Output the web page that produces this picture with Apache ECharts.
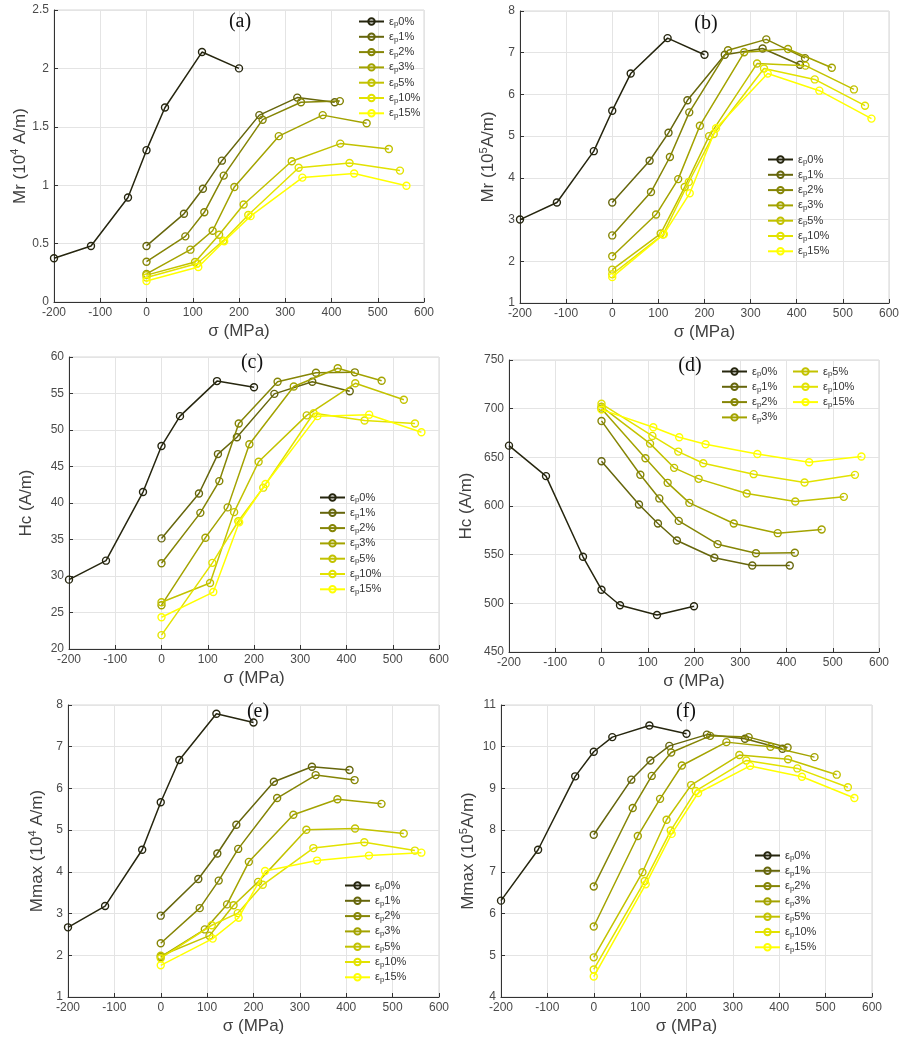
<!DOCTYPE html>
<html>
<head>
<meta charset="utf-8">
<script src="https://cdn.jsdelivr.net/npm/echarts@6/dist/echarts.min.js"></script>
<style>
html,body{margin:0;padding:0;background:#fff;}
#chart{width:902px;height:1038px;}
</style>
</head>
<body>
<div id="chart"></div>
<script>
// ---- data ----
const strains = ['0%', '1%', '2%', '3%', '5%', '10%', '15%'];
const sigmaByStrain = [
  [-200, -120, -40, 0, 40, 120, 200],
  [0, 81, 122, 163, 244, 326, 407],
  [0, 84, 125, 167, 251, 334, 418],
  [0, 95, 143, 190, 286, 381, 476],
  [0, 105, 157, 210, 314, 419, 524],
  [0, 110, 166, 220, 329, 439, 548],
  [0, 112, 168, 225, 337, 449, 562]
];
const mrA = [
  [0.375, 0.48, 0.895, 1.30, 1.665, 2.14, 2.0],
  [0.48, 0.755, 0.97, 1.21, 1.60, 1.75, 1.71],
  [0.345, 0.562, 0.768, 1.082, 1.561, 1.71, 1.72],
  [0.24, 0.448, 0.61, 0.985, 1.42, 1.60, 1.53],
  [0.23, 0.342, 0.576, 0.835, 1.205, 1.356, 1.31],
  [0.21, 0.33, 0.525, 0.745, 1.15, 1.19, 1.125],
  [0.18, 0.30, 0.52, 0.735, 1.065, 1.10, 0.995]
];
const mrB = [
  [3.0, 3.41, 4.64, 5.61, 6.50, 7.35, 6.95],
  [3.41, 4.41, 5.08, 5.86, 6.95, 7.10, 6.71],
  [2.62, 3.66, 4.50, 5.57, 7.06, 7.32, 6.87],
  [2.12, 3.12, 3.97, 5.25, 7.01, 7.09, 6.64],
  [1.80, 2.665, 3.78, 5.0, 6.74, 6.69, 6.12],
  [1.69, 2.64, 3.90, 5.05, 6.62, 6.36, 5.73],
  [1.62, 2.65, 3.63, 5.19, 6.50, 6.09, 5.42]
];
const hcC = [
  [29.5, 32.1, 41.5, 47.8, 51.9, 56.7, 55.85],
  [35.15, 41.3, 46.7, 49.0, 54.95, 56.6, 55.3],
  [31.75, 38.65, 43.0, 50.9, 56.6, 57.85, 57.9],
  [26.0, 35.25, 39.4, 48.05, 55.95, 58.45, 56.75],
  [26.4, 29.05, 38.75, 45.65, 52.0, 56.4, 54.15],
  [21.9, 31.8, 37.5, 42.1, 52.3, 51.3, 50.9],
  [24.35, 27.8, 37.35, 42.6, 51.9, 52.1, 49.7]
];
const hcD = [
  [662, 630.7, 547.8, 514, 498, 488, 497],
  [646, 601.5, 582, 564.6, 546.8, 538.9, 538.9],
  [687.4, 632.1, 607.8, 584.7, 560.8, 551.5, 552],
  [700, 649.1, 623.8, 603.2, 582, 572.1, 575.9],
  [702, 664.1, 639.2, 627.9, 612.8, 604.6, 609.4],
  [705, 672, 655.9, 643.9, 632.7, 624.1, 632],
  [699, 680.9, 670.6, 663.4, 653.5, 645, 650.8]
];
const mmaxE = [
  [2.67, 3.18, 4.53, 5.67, 6.68, 7.79, 7.58],
  [2.95, 3.83, 4.44, 5.13, 6.16, 6.52, 6.44],
  [2.29, 3.13, 3.79, 4.55, 5.77, 6.32, 6.20],
  [1.96, 2.62, 3.22, 4.24, 5.37, 5.74, 5.63],
  [1.99, 2.47, 3.20, 3.76, 5.01, 5.04, 4.92],
  [1.93, 2.72, 3.01, 3.69, 4.57, 4.71, 4.51],
  [1.76, 2.40, 2.90, 4.02, 4.27, 4.39, 4.46]
];
const mmaxF = [
  [6.31, 7.53, 9.29, 9.88, 10.23, 10.51, 10.31],
  [7.89, 9.21, 9.67, 10.02, 10.29, 10.19, 9.95],
  [6.65, 8.53, 9.30, 9.86, 10.26, 10.23, 9.98],
  [5.69, 7.86, 8.75, 9.55, 10.11, 10.0, 9.75],
  [4.95, 6.99, 8.25, 9.08, 9.80, 9.70, 9.33],
  [4.66, 6.78, 7.99, 8.94, 9.67, 9.48, 9.03],
  [4.49, 6.70, 7.91, 8.89, 9.54, 9.28, 8.77]
];
const panelLetters = ['(a)', '(b)', '(c)', '(d)', '(e)', '(f)'];
const yNames = [
  '{a|Mr (10}{s|4}{a| A/m)}',
  '{a|Mr (10}{s|5}{a|A/m)}',
  '{a|Hc (A/m)}',
  '{a|Hc (A/m)}',
  '{a|Mmax (10}{s|4}{a| A/m)}',
  '{a|Mmax (10}{s|5}{a|A/m)}'
];
const yRanges = [[0, 2.5, 0.5], [1, 8, 1], [20, 60, 5], [450, 750, 50], [1, 8, 1], [4, 11, 1]];
const xRange = [-200, 600, 100];
const panelValues = [mrA, mrB, hcC, hcD, mmaxE, mmaxF];

// ---- styles / layout ----
const colors = ['#26260f', '#66660c', '#858505', '#a3a300', '#c2c200', '#e2e200', '#ffff00'];
const grids = [
  {left: 54, top: 10, width: 370, height: 292},
  {left: 520, top: 11, width: 371, height: 292},
  {left: 69, top: 357, width: 370, height: 292},
  {left: 509, top: 360, width: 370, height: 292},
  {left: 68, top: 705, width: 371, height: 292},
  {left: 501, top: 705, width: 371, height: 292}
];
const titlePos = [[240, 12], [706, 14], [252, 353], [690, 356], [258, 702], [686, 702]];
const yNameGap = [24, 22, 33, 33, 21, 23];
const FONT = '"Liberation Sans", Arial, Helvetica, sans-serif';
const TXT = '#404040';

const legendRich = {
  e: {fontSize: 11, color: '#333', fontFamily: FONT},
  p: {fontSize: 8, color: '#333', fontFamily: FONT, verticalAlign: 'bottom', padding: [3, 0, 0, 0]},
  t: {fontSize: 11, color: '#333', fontFamily: FONT}
};
function legendFmt(name) {
  return '{e|ε}{p|p}{t|' + name.replace('εp', '') + '}';
}
function makeLegend(left, top, names) {
  return {
    left: left, top: top, orient: 'vertical',
    itemWidth: 25, itemHeight: 8, itemGap: 2.3,
    padding: 0,
    data: names,
    formatter: legendFmt,
    textStyle: {fontFamily: FONT, fontSize: 11, color: '#333', lineHeight: 13, rich: legendRich},
    selectedMode: false
  };
}
const allNames = strains.map(s => 'εp' + s);
const legends = [
  makeLegend(358, 15, allNames),
  makeLegend(767, 153, allNames),
  makeLegend(319, 491, allNames),
  makeLegend(721, 365, allNames.slice(0, 4)),
  makeLegend(792, 365, allNames.slice(4)),
  makeLegend(344, 879, allNames),
  makeLegend(754, 849, allNames)
];

const xAxes = [], yAxes = [], series = [], titles = [];
grids.forEach((g, i) => {
  g.show = true;
  g.borderColor = '#d6d6d6';
  g.borderWidth = 1;
  g.containLabel = false;
  xAxes.push({
    type: 'value', gridIndex: i, min: xRange[0], max: xRange[1], interval: xRange[2],
    name: 'σ (MPa)', nameLocation: 'middle', nameGap: 21,
    nameTextStyle: {fontFamily: FONT, fontSize: 17, color: TXT},
    axisLine: {show: true, onZero: false, lineStyle: {color: '#333', width: 1}},
    axisTick: {show: true, inside: true, length: 4, lineStyle: {color: '#333'}},
    axisLabel: {fontFamily: FONT, fontSize: 12, color: '#4a4a4a', margin: 5},
    splitLine: {show: true, lineStyle: {color: '#e4e4e4', width: 1}}
  });
  const yr = yRanges[i];
  yAxes.push({
    type: 'value', gridIndex: i, min: yr[0], max: yr[1], interval: yr[2],
    name: yNames[i], nameLocation: 'middle', nameGap: yNameGap[i], nameRotate: 90,
    nameTextStyle: {
      fontFamily: FONT, fontSize: 17, color: TXT,
      rich: {
        a: {fontFamily: FONT, fontSize: 17, color: TXT, lineHeight: 20},
        s: {fontFamily: FONT, fontSize: 11, color: TXT, verticalAlign: 'top', lineHeight: 20}
      }
    },
    axisLine: {show: true, onZero: false, lineStyle: {color: '#333', width: 1}},
    axisTick: {show: true, inside: true, length: 4, lineStyle: {color: '#333'}},
    axisLabel: {fontFamily: FONT, fontSize: 12, color: '#4a4a4a', margin: 5},
    splitLine: {show: true, lineStyle: {color: '#e4e4e4', width: 1}}
  });
  titles.push({
    text: panelLetters[i], left: titlePos[i][0], top: titlePos[i][1], textAlign: 'center', padding: 0,
    textStyle: {fontFamily: '"Liberation Serif", "Times New Roman", serif', fontSize: 20, fontWeight: 'normal', color: '#111'}
  });
  const vals = panelValues[i];
  strains.forEach((s, k) => {
    series.push({
      type: 'line', name: 'εp' + s, xAxisIndex: i, yAxisIndex: i,
      data: sigmaByStrain[k].map((x, j) => [x, vals[k][j]]),
      symbol: 'circle', symbolSize: 7,
      lineStyle: {color: colors[k], width: 1.5},
      itemStyle: {color: 'rgba(255,255,255,0)', borderColor: colors[k], borderWidth: 1.4},
      emphasis: {disabled: true},
      silent: true,
      z: 2 + k
    });
  });
});

const chart = echarts.init(document.getElementById('chart'), null, {renderer: 'canvas'});
chart.setOption({
  animation: false,
  backgroundColor: '#fff',
  title: titles,
  legend: legends,
  grid: grids,
  xAxis: xAxes,
  yAxis: yAxes,
  series: series
});
</script>
</body>
</html>
